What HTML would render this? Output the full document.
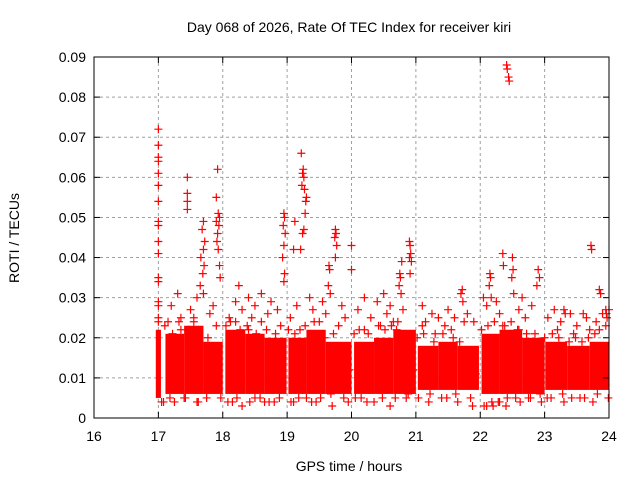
<!DOCTYPE html>
<html><head><meta charset="utf-8"><style>
body{margin:0;background:#fff;width:640px;height:480px;overflow:hidden}
svg{display:block}
text{font-family:"Liberation Sans",sans-serif;font-size:14px;fill:#000}
</style></head><body>
<svg id="chart" width="640" height="480">
<text x="349" y="32" text-anchor="middle">Day 068 of 2026, Rate Of TEC Index for receiver kiri</text>
<text x="349" y="471" text-anchor="middle">GPS time / hours</text>
<text transform="translate(19,238) rotate(-90)" text-anchor="middle">ROTI / TECUs</text>
<g id="grid"></g><g id="marks"></g><g id="axes"></g>
</svg>
<script>
const xTicks=[16,17,18,19,20,21,22,23,24];
const yTicks=[0,0.01,0.02,0.03,0.04,0.05,0.06,0.07,0.08,0.09];
const yLabels=["0","0.01","0.02","0.03","0.04","0.05","0.06","0.07","0.08","0.09"];
// dense core segments: start hour, end hour, low value, high value
const segStart=[16.96,17.11,17.4,17.7,18.04,18.35,18.65,19.02,19.3,19.6,20.04,20.35,20.65,21.03,21.35,21.65,22.02,22.3,22.65,23.01,23.35,23.7];
const segEnd=[17.04,17.4,17.7,18.0,18.35,18.65,18.99,19.3,19.6,20.0,20.35,20.65,21.0,21.35,21.65,21.98,22.3,22.65,23.0,23.35,23.7,24.0];
const segLow=[0.005,0.006,0.006,0.006,0.006,0.006,0.006,0.006,0.006,0.006,0.006,0.006,0.006,0.007,0.007,0.007,0.006,0.006,0.006,0.007,0.007,0.007];
const segHigh=[0.022,0.021,0.023,0.019,0.022,0.021,0.020,0.020,0.022,0.019,0.019,0.020,0.022,0.018,0.019,0.018,0.021,0.022,0.020,0.019,0.018,0.019];
// individual points (time, value)
const ptT=[17,17,17,17,17,17,17,17,17,17,17,17,17,17,17,17,17,
17.45,17.45,17.45,17.45,17.7,17.68,17.72,17.7,17.66,17.71,17.69,17.65,17.7,
17.92,17.9,17.93,17.95,17.9,17.94,17.92,17.91,17.93,17.95,17.96,
18.95,18.96,18.94,18.97,18.95,18.93,18.96,18.95,
19.22,19.25,19.24,19.26,19.23,19.27,19.3,19.29,19.28,19.26,19.24,19.21,19.12,19.1,
19.65,19.66,19.64,19.67,19.75,19.76,19.74,19.77,19.75,20.0,20.0,
20.75,20.76,20.74,20.77,20.78,20.9,20.91,20.92,20.9,20.93,20.91,21.1,21.72,21.7,21.73,
22.15,22.16,22.14,22.17,22.41,22.42,22.44,22.45,22.35,22.36,22.5,22.51,22.49,22.52,22.9,22.92,22.88,
23.3,23.32,23.72,23.73,23.85,23.87,23.95,23.96,23.97,
17.2,17.3,17.35,17.5,17.55,17.6,17.8,17.85,18.1,18.2,18.25,18.3,18.4,18.45,18.5,18.6,18.7,18.75,18.85,
19.05,19.15,19.35,19.4,19.5,19.55,19.6,19.85,19.9,20.1,20.2,20.3,20.4,20.5,20.55,20.6,20.65,20.8,
21.15,21.25,21.35,21.45,21.5,21.6,21.8,21.9,22.05,22.1,22.25,22.3,22.6,22.65,22.7,22.8,
23.05,23.15,23.25,23.4,23.5,23.6,23.65,23.8,23.9,24.0,
17.05,17.25,17.4,17.6,17.75,18.15,18.3,18.5,18.65,18.8,19.1,19.3,19.45,19.7,19.95,20.15,20.35,20.6,20.85,
21.2,21.4,21.65,21.85,22.1,22.2,22.3,22.4,22.55,22.75,22.95,23.1,23.3,23.55,23.75,23.95,
17.15,17.35,17.55,17.9,18.2,18.4,18.6,18.9,19.2,19.5,19.8,20.2,20.45,20.7,21.1,21.3,21.55,21.75,22.35,22.6,22.85,23.2,23.45,23.7,23.85,
17.1,17.22,17.32,17.47,17.58,17.77,17.88,18.05,18.12,18.27,18.38,18.52,18.68,18.82,18.92,19.02,19.12,19.28,19.42,19.58,19.72,19.82,19.97,
20.04,20.12,20.26,20.42,20.52,20.62,20.72,20.82,20.96,21.02,21.12,21.28,21.42,21.58,21.68,21.82,21.93,22.02,22.12,22.22,22.38,22.48,22.58,22.72,22.86,22.97,
23.0,23.12,23.22,23.38,23.48,23.58,23.68,23.78,23.92,23.99,
17.08,17.18,17.42,17.62,17.82,17.97,18.08,18.22,18.42,18.58,18.72,18.88,19.06,19.18,19.38,19.52,19.68,19.88,20.06,20.24,20.48,20.68,20.88,
21.04,21.22,21.48,21.62,21.88,22.06,22.18,22.28,22.42,22.62,22.78,22.93,23.04,23.28,23.42,23.62,23.82,23.98];
const ptV=[0.072,0.068,0.065,0.064,0.061,0.058,0.054,0.049,0.048,0.044,0.041,0.035,0.034,0.029,0.028,0.025,0.024,
0.060,0.056,0.054,0.052,0.049,0.047,0.044,0.042,0.040,0.038,0.036,0.033,0.031,
0.062,0.055,0.051,0.050,0.049,0.048,0.046,0.044,0.042,0.038,0.035,
0.051,0.050,0.048,0.046,0.043,0.040,0.036,0.034,
0.066,0.062,0.061,0.060,0.058,0.057,0.055,0.054,0.051,0.047,0.046,0.042,0.049,0.042,
0.038,0.037,0.033,0.031,0.047,0.046,0.045,0.043,0.040,0.043,0.037,
0.036,0.035,0.033,0.031,0.039,0.044,0.043,0.041,0.040,0.039,0.036,0.028,0.032,0.031,0.029,
0.036,0.035,0.033,0.030,0.088,0.087,0.085,0.084,0.041,0.038,0.040,0.037,0.035,0.031,0.037,0.035,0.033,
0.027,0.026,0.043,0.042,0.032,0.031,0.027,0.026,0.025,
0.028,0.031,0.025,0.027,0.024,0.030,0.026,0.028,0.025,0.029,0.033,0.027,0.030,0.025,0.028,0.031,0.026,0.029,0.027,
0.025,0.028,0.030,0.027,0.024,0.029,0.026,0.028,0.025,0.027,0.030,0.025,0.029,0.031,0.026,0.028,0.024,0.027,
0.024,0.026,0.025,0.023,0.027,0.025,0.026,0.024,0.030,0.028,0.029,0.026,0.027,0.030,0.025,0.028,
0.025,0.027,0.024,0.026,0.023,0.026,0.025,0.024,0.026,0.027,
0.004,0.004,0.005,0.004,0.005,0.004,0.003,0.005,0.004,0.004,0.004,0.005,0.004,0.003,0.004,0.005,0.004,0.003,0.005,
0.004,0.005,0.004,0.005,0.003,0.003,0.004,0.003,0.005,0.005,0.004,0.005,0.004,0.005,0.004,
0.023,0.024,0.022,0.025,0.023,0.024,0.022,0.024,0.023,0.022,0.024,0.023,0.022,0.023,0.022,0.023,0.021,0.022,0.024,0.023,0.022,0.021,0.022,0.021,0.022,
0.022,0.023,0.021,0.024,0.022,0.021,0.020,0.012,0.023,0.024,0.022,0.023,0.021,0.022,0.021,0.011,0.022,0.021,0.023,0.024,0.020,0.021,0.013,
0.012,0.021,0.022,0.021,0.023,0.022,0.023,0.024,0.014,0.012,0.020,0.021,0.019,0.021,0.020,0.019,0.013,0.011,0.022,0.023,0.024,0.023,0.024,0.022,0.021,0.013,
0.012,0.020,0.021,0.020,0.019,0.020,0.019,0.020,0.021,0.012,
0.005,0.004,0.005,0.005,0.004,0.008,0.005,0.004,0.005,0.004,0.005,0.004,0.005,0.004,0.005,0.004,0.005,0.006,0.005,0.005,0.004,0.005,0.005,
0.006,0.005,0.006,0.005,0.006,0.003,0.003,0.004,0.004,0.005,0.004,0.005,0.006,0.005,0.006,0.005,0.005,0.006];
const X0=94,X1=609,Y0=418,Y1=57;
const xs=h=>X0+(h-16)/8*(X1-X0);
const ys=v=>Y0-v/0.09*(Y0-Y1);
const NS="http://www.w3.org/2000/svg";
function mk(tag,attrs,parent){const e=document.createElementNS(NS,tag);for(const k in attrs)e.setAttribute(k,attrs[k]);parent.appendChild(e);return e;}
const grid=document.getElementById('grid'),marks=document.getElementById('marks'),axes=document.getElementById('axes');
xTicks.forEach((t,i)=>{const x=xs(t);
 if(i>0&&i<xTicks.length-1){const g=mk('line',{x1:x,x2:x,y1:Y1,y2:Y0,stroke:'#a0a0a0','stroke-dasharray':'3,3'},grid);
 
 }
 const l=mk('text',{x:x,y:Y0+23,'text-anchor':'middle'},axes);l.textContent=t;
 
 
 mk('line',{x1:x,x2:x,y1:Y0,y2:Y0-6,stroke:'#000'},axes);mk('line',{x1:x,x2:x,y1:Y1,y2:Y1+6,stroke:'#000'},axes);});
yTicks.forEach((t,i)=>{const y=ys(t);
 if(i>0&&i<yTicks.length-1){const g=mk('line',{x1:X0,x2:X1,y1:y,y2:y,stroke:'#a0a0a0','stroke-dasharray':'3,3'},grid);
 
 }
 const l=mk('text',{x:X0-8,y:y+5,'text-anchor':'end'},axes);l.textContent=yLabels[i];
 
 
 mk('line',{x1:X0,x2:X0+6,y1:y,y2:y,stroke:'#000'},axes);mk('line',{x1:X1,x2:X1-6,y1:y,y2:y,stroke:'#000'},axes);});
const fr=mk('rect',{x:X0,y:Y1,width:X1-X0,height:Y0-Y1,fill:'none',stroke:'#000'},axes);


segStart.forEach((s,i)=>{const r=mk('rect',{x:xs(s),y:ys(segHigh[i]),width:xs(segEnd[i])-xs(s),height:ys(segLow[i])-ys(segHigh[i]),fill:'#ff0000'},marks);
 
 });
let d='';
ptT.forEach((t,i)=>{const x=xs(t),y=ys(ptV[i]);d+=`M${x-4},${y}h8M${x},${y-4}v8`;});
const p=mk('path',{d:d,stroke:'#ff0000','stroke-width':1.2,fill:'none'},marks);


</script>
</body></html>
